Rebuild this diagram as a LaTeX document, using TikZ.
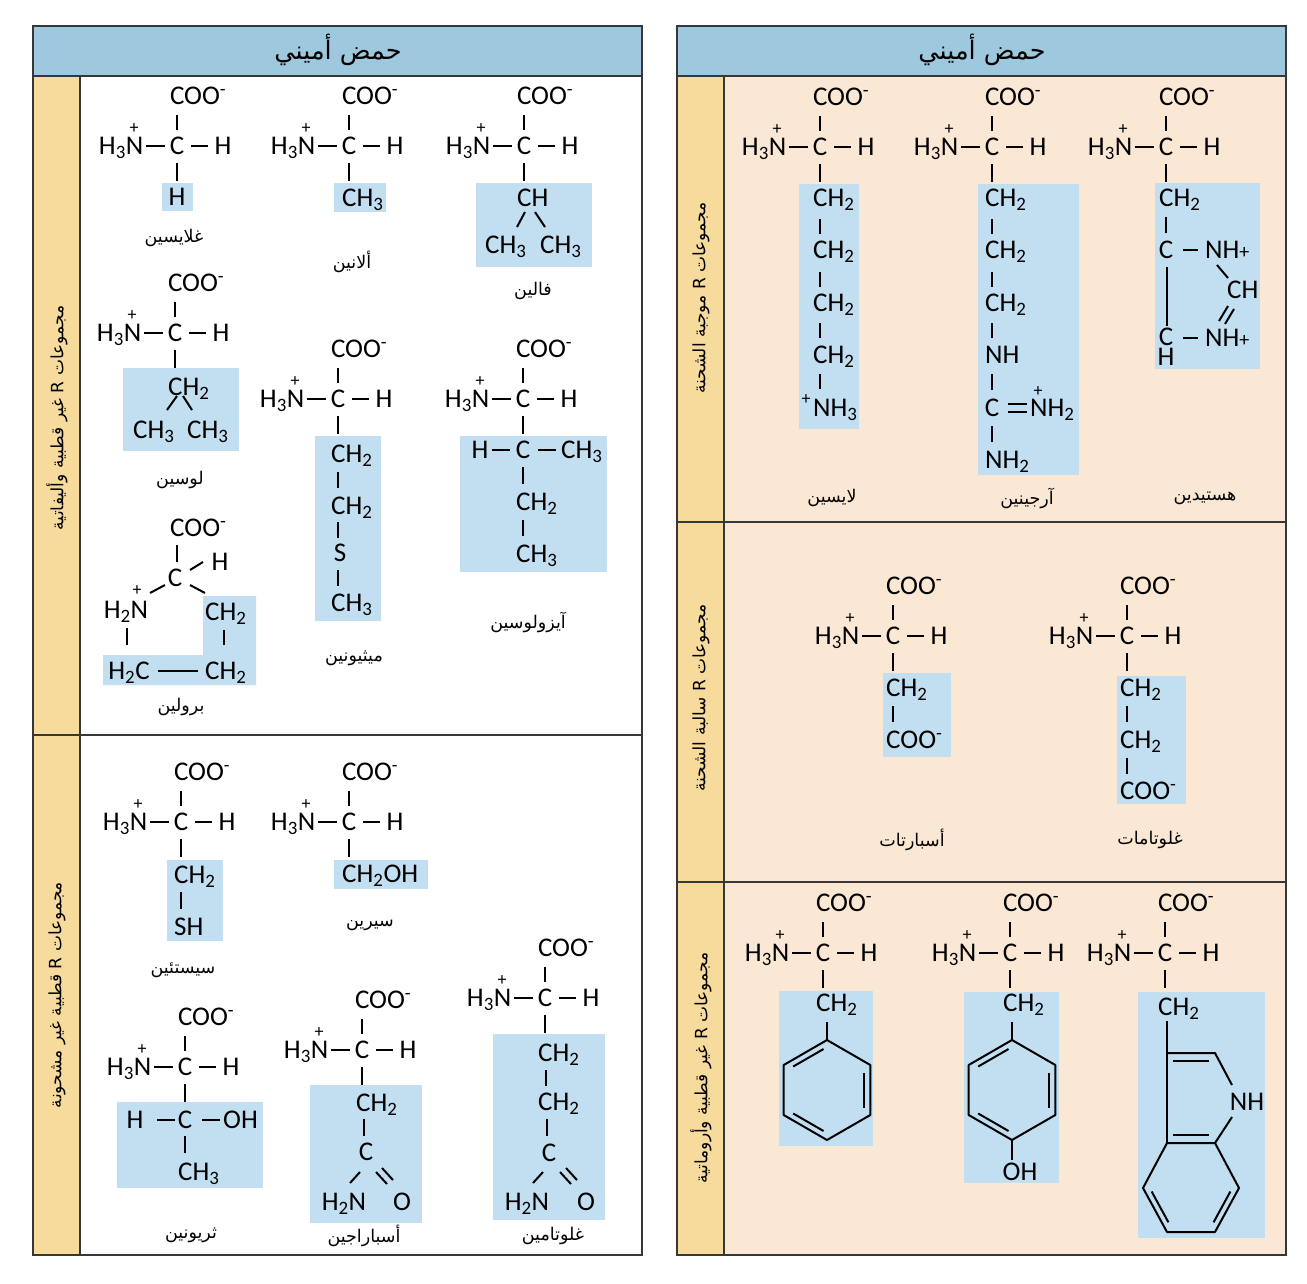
\documentclass[tikz,border=0pt]{standalone}
\usepackage{fontspec}
\usetikzlibrary{calc}
\TeXXeTstate=1
\newfontfamily\chemfont{Carlito}
\newfontfamily\arfont[Script=Arabic]{DejaVu Sans}
\definecolor{hdr}{RGB}{158,200,221}
\definecolor{stripc}{RGB}{247,219,157}
\definecolor{beige}{RGB}{250,232,212}
\definecolor{boxblue}{RGB}{194,222,241}
\definecolor{framec}{RGB}{55,55,55}
\tikzset{
 atom/.style={font=\chemfont\fontsize{27}{30}\selectfont, inner sep=0pt, anchor=base, yshift=-8.5pt},
 plussign/.style={font=\chemfont\fontsize{18}{20}\selectfont, inner sep=0pt},
 bond/.style={line width=2pt},
 rgroup/.style={fill=boxblue, draw=none},
 aaname/.style={font=\arfont\fontsize{17.5}{19}\selectfont, inner sep=0pt},
 sidelabel/.style={font=\arfont\fontsize{17}{19}\selectfont, inner sep=0pt, rotate=90},
 titlelabel/.style={font=\arfont\fontsize{25.5}{28}\selectfont, inner sep=0pt},
 panelframe/.style={draw=framec, line width=2pt},
}
\newcommand\CHtwo{CH\textsubscript{2}}
\newcommand\CHthree{CH\textsubscript{3}}
\newcommand\vbond[3]{\draw[bond] (#1,#2) -- (#1,#3);}
\newcommand\aahead[3]{%
\begin{scope}[shift={(#1,#2)}]
\node[atom] (#3-c) at (0,0) {C};
\node[atom,anchor=base west] (#3-coo) at (-7.2,-50) {COO\textsuperscript{-}};
\node[atom,anchor=base east] (#3-n) at (-33.5,0) {H\textsubscript{3}N};
\node[plussign] (#3-p) at (-43,-17) {+};
\node[atom] (#3-h) at (46,0) {H};
\draw[bond] (0,-31) -- (0,-16);
\draw[bond] (-31,0) -- (-12,0);
\draw[bond] (14,0) -- (31,0);
\draw[bond] (0,17) -- (0,35);
\end{scope}}
\newcommand\hexring[3]{%
\coordinate (#3c) at (#1,#2);
\coordinate (#3a) at ($(#1,#2)+(0,-50)$);
\coordinate (#3b) at ($(#1,#2)+(43.3,-25)$);
\coordinate (#3d) at ($(#1,#2)+(43.3,25)$);
\coordinate (#3e) at ($(#1,#2)+(0,50)$);
\coordinate (#3f) at ($(#1,#2)+(-43.3,25)$);
\coordinate (#3g) at ($(#1,#2)+(-43.3,-25)$);
\draw[bond,line join=round] (#3a)--(#3b)--(#3d)--(#3e)--(#3f)--(#3g)--cycle;
\draw[bond,shorten <=4pt,shorten >=4pt] ($(#3c)!0.86!(#3g)$) -- ($(#3c)!0.86!(#3a)$);
\draw[bond,shorten <=4pt,shorten >=4pt] ($(#3c)!0.86!(#3b)$) -- ($(#3c)!0.86!(#3d)$);
\draw[bond,shorten <=4pt,shorten >=4pt] ($(#3c)!0.86!(#3e)$) -- ($(#3c)!0.86!(#3f)$);
}
\begin{document}
\begin{tikzpicture}[x=1pt,y=-1pt]
\useasboundingbox (0,0) rectangle (1307,1283);
\fill[white] (0,0) rectangle (1307,1283);
% panel fills
\fill[beige] (677,26) rectangle (1286,1255);
\fill[hdr] (33,26) rectangle (642,76);
\fill[hdr] (677,26) rectangle (1286,76);
\fill[stripc] (33,76) rectangle (80,1255);
\fill[stripc] (677,76) rectangle (724,1255);
% R-group boxes
\fill[rgroup] (162,183) rectangle (193,211);
\fill[rgroup] (334,183) rectangle (386,212);
\fill[rgroup] (476,183) rectangle (592,267);
\fill[rgroup] (123,368) rectangle (239,451);
\fill[rgroup] (315,436) rectangle (381,621);
\fill[rgroup] (460,436) rectangle (607,572);
\fill[rgroup] (103,655) -- (203,655) -- (203,596) -- (256,596) -- (256,685) -- (103,685) -- cycle;
\fill[rgroup] (167,860) rectangle (223,941);
\fill[rgroup] (334,860) rectangle (428,889);
\fill[rgroup] (117,1102) rectangle (263,1188);
\fill[rgroup] (310,1085) rectangle (422,1223);
\fill[rgroup] (493,1034) rectangle (605,1220);
\fill[rgroup] (799,184) rectangle (859,429);
\fill[rgroup] (978,184) rectangle (1079,475);
\fill[rgroup] (1155,183) rectangle (1260,369);
\fill[rgroup] (883,673) rectangle (951,757);
\fill[rgroup] (1117,676) rectangle (1186,804);
\fill[rgroup] (779,991) rectangle (873,1146);
\fill[rgroup] (964,992) rectangle (1059,1183);
\fill[rgroup] (1138,992) rectangle (1265,1238);
% titles
\node[titlelabel] (t1) at (338,50) {\beginR حمض أميني\endR};
\node[titlelabel] (t2) at (982,50) {\beginR حمض أميني\endR};
% side labels
\node[sidelabel] (s1) at (57,418) {\beginR مجموعات R غير قطبية وأليفاتية\endR};
\node[sidelabel] (s2) at (57,995) {\beginR مجموعات R قطبية غير مشحونة\endR};
\node[sidelabel] (s3) at (701,298) {\beginR مجموعات R موجبة الشحنة\endR};
\node[sidelabel] (s4) at (701,698) {\beginR مجموعات R سالبة الشحنة\endR};
\node[sidelabel] (s5) at (701,1068) {\beginR مجموعات R غير قطبية وأروماتية\endR};
% ---------- Glycine
\aahead{177}{146}{gly}
\node[atom] (gly-r) at (177,197) {H};
\node[aaname] (gly-l) at (174,238) {\beginR غلايسين\endR};
% ---------- Alanine
\aahead{349}{146}{ala}
\node[atom,anchor=base west] (ala-r) at (342,198) {\CHthree};
\node[aaname] (ala-l) at (352,262) {\beginR ألانين\endR};
% ---------- Valine
\aahead{524}{146}{val}
\node[atom,anchor=base west] (val-ch) at (517,198) {CH};
\draw[bond] (525,212) -- (517,227);
\draw[bond] (535,212) -- (545,227);
\node[atom,anchor=base west] (val-m1) at (485,245) {\CHthree};
\node[atom,anchor=base west] (val-m2) at (540,245) {\CHthree};
\node[aaname] (val-l) at (533,291) {\beginR فالين\endR};
% ---------- Leucine
\aahead{175}{333}{leu}
\node[atom,anchor=base west] (leu-ch) at (168,387) {\CHtwo};
\draw[bond] (177,396) -- (167,410);
\draw[bond] (183,396) -- (192,410);
\node[atom,anchor=base west] (leu-m1) at (133,430) {\CHthree};
\node[atom,anchor=base west] (leu-m2) at (187,430) {\CHthree};
\node[aaname] (leu-l) at (180,480) {\beginR لوسين\endR};
% ---------- Methionine
\aahead{338}{399}{met}
\node[atom,anchor=base west] (met-1) at (331,454) {\CHtwo};
\vbond{338}{472}{488}
\node[atom,anchor=base west] (met-2) at (331,506) {\CHtwo};
\vbond{338}{522}{538}
\node[atom] (met-s) at (340,553) {S};
\vbond{338}{570}{586}
\node[atom,anchor=base west] (met-3) at (331,603) {\CHthree};
\node[aaname] (met-l) at (354,658) {\beginR ميثيونين\endR};
% ---------- Isoleucine
\aahead{523}{399}{ile}
\node[atom] (ile-h) at (480,450) {H};
\draw[bond] (492,450) -- (510,450);
\node[atom] (ile-c) at (523,450) {C};
\draw[bond] (538,450) -- (556,450);
\node[atom,anchor=base west] (ile-m) at (561,450) {\CHthree};
\vbond{523}{467}{484}
\node[atom,anchor=base west] (ile-2) at (516,502) {\CHtwo};
\vbond{523}{520}{536}
\node[atom,anchor=base west] (ile-3) at (516,554) {\CHthree};
\node[aaname] (ile-l) at (528,622) {\beginR آيزولوسين\endR};
% ---------- Proline
\node[atom,anchor=base west] (pro-coo) at (170,528) {COO\textsuperscript{-}};
\vbond{177}{545}{562}
\node[atom] (pro-c) at (175,578) {C};
\draw[bond] (190,570) -- (203,562);
\node[atom] (pro-h) at (220,562) {H};
\draw[bond] (150,593) -- (165,585);
\draw[bond] (190,585) -- (205,593);
\node[atom] (pro-n) at (126,610) {H\textsubscript{2}N};
\node[plussign] (pro-p) at (137,591) {+};
\vbond{127}{628}{645}
\node[atom] (pro-h2c) at (129,671) {H\textsubscript{2}C};
\draw[bond] (158,671) -- (198,671);
\node[atom,anchor=base west] (pro-cb) at (205,671) {\CHtwo};
\node[atom,anchor=base west] (pro-ca) at (205,612) {\CHtwo};
\vbond{224}{630}{645}
\node[aaname] (pro-l) at (181,707) {\beginR برولين\endR};
% ---------- Cysteine
\aahead{181}{822}{cys}
\node[atom,anchor=base west] (cys-1) at (174,875) {\CHtwo};
\vbond{181}{892}{909}
\node[atom,anchor=base west] (cys-2) at (174,927) {SH};
\node[aaname] (cys-l) at (183,970) {\beginR سيستئين\endR};
% ---------- Serine
\aahead{349}{822}{ser}
\node[atom,anchor=base west] (ser-1) at (342,874) {CH\textsubscript{2}OH};
\node[aaname] (ser-l) at (370,925) {\beginR سيرين\endR};
% ---------- Threonine
\aahead{185}{1067}{thr}
\node[atom] (thr-h) at (135,1120) {H};
\draw[bond] (157,1120) -- (175,1120);
\node[atom] (thr-c) at (185,1120) {C};
\draw[bond] (202,1120) -- (220,1120);
\node[atom,anchor=base west] (thr-oh) at (223,1120) {OH};
\vbond{185}{1136}{1153}
\node[atom,anchor=base west] (thr-m) at (178,1172) {\CHthree};
\node[aaname] (thr-l) at (191,1235) {\beginR ثريونين\endR};
% ---------- Asparagine
\aahead{362}{1050}{asn}
\node[atom,anchor=base west] (asn-1) at (356,1103) {\CHtwo};
\vbond{364}{1119}{1136}
\node[atom] (asn-c) at (366,1152) {C};
\draw[bond] (350,1183) -- (360,1172);
\draw[bond] (376,1172) -- (387,1184);
\draw[bond] (382,1168) -- (393,1180);
\node[atom] (asn-n) at (344,1202) {H\textsubscript{2}N};
\node[atom] (asn-o) at (402,1202) {O};
\node[aaname] (asn-l) at (364,1236) {\beginR أسباراجين\endR};
% ---------- Glutamine
\aahead{545}{998}{gln}
\node[atom,anchor=base west] (gln-1) at (538,1053) {\CHtwo};
\vbond{546}{1070}{1086}
\node[atom,anchor=base west] (gln-2) at (538,1102) {\CHtwo};
\vbond{547}{1119}{1136}
\node[atom] (gln-c) at (549,1153) {C};
\draw[bond] (533,1183) -- (543,1172);
\draw[bond] (560,1172) -- (571,1184);
\draw[bond] (566,1168) -- (577,1180);
\node[atom] (gln-n) at (527,1202) {H\textsubscript{2}N};
\node[atom] (gln-o) at (586,1202) {O};
\node[aaname] (gln-l) at (553,1236) {\beginR غلوتامين\endR};
% ---------- Lysine
\aahead{820}{147}{lys}
\node[atom,anchor=base west] (lys-1) at (813,198) {\CHtwo};
\vbond{820}{219}{234}
\node[atom,anchor=base west] (lys-2) at (813,250) {\CHtwo};
\vbond{820}{272}{287}
\node[atom,anchor=base west] (lys-3) at (813,303) {\CHtwo};
\vbond{820}{323}{338}
\node[atom,anchor=base west] (lys-4) at (813,355) {\CHtwo};
\vbond{820}{374}{389}
\node[atom,anchor=base west] (lys-5) at (813,408) {NH\textsubscript{3}};
\node[plussign] (lys-p) at (806,400) {+};
\node[aaname] (lys-l) at (832,498) {\beginR لايسين\endR};
% ---------- Arginine
\aahead{992}{147}{arg}
\node[atom,anchor=base west] (arg-1) at (985,198) {\CHtwo};
\vbond{992}{219}{234}
\node[atom,anchor=base west] (arg-2) at (985,250) {\CHtwo};
\vbond{992}{272}{287}
\node[atom,anchor=base west] (arg-3) at (985,303) {\CHtwo};
\vbond{992}{323}{338}
\node[atom,anchor=base west] (arg-4) at (985,355) {NH};
\vbond{992}{374}{390}
\node[atom] (arg-c) at (992,408) {C};
\draw[bond] (1008,404) -- (1027,404);
\draw[bond] (1008,412) -- (1027,412);
\node[atom,anchor=base west] (arg-n1) at (1030,408) {NH\textsubscript{2}};
\node[plussign] (arg-p) at (1038,392) {+};
\vbond{992}{426}{442}
\node[atom,anchor=base west] (arg-n2) at (985,460) {NH\textsubscript{2}};
\node[aaname] (arg-l) at (1027,498) {\beginR آرجينين\endR};
% ---------- Histidine
\aahead{1166}{147}{his}
\node[atom,anchor=base west] (his-1) at (1159,198) {\CHtwo};
\vbond{1166}{217}{233}
\node[atom] (his-c1) at (1166,250) {C};
\draw[bond] (1183,250) -- (1198,250);
\node[atom,anchor=base west] (his-n1) at (1205,250) {NH{\fontsize{20}{20}\selectfont +}};
\draw[bond] (1217,265) -- (1228,278);
\node[atom,anchor=base west] (his-ch) at (1227,290) {CH};
\draw[bond] (1228,306) -- (1219,321);
\draw[bond] (1234,309) -- (1225,324);
\vbond{1167}{267}{326}
\node[atom] (his-c2) at (1166,337) {C};
\node[atom] (his-h) at (1166,357) {H};
\draw[bond] (1183,338) -- (1198,338);
\node[atom,anchor=base west] (his-n2) at (1205,338) {NH{\fontsize{20}{20}\selectfont +}};
\node[aaname] (his-l) at (1205,498) {\beginR هستيدين\endR};
% ---------- Aspartate
\aahead{893}{636}{asp}
\node[atom,anchor=base west] (asp-1) at (886,688) {\CHtwo};
\vbond{893}{706}{722}
\node[atom,anchor=base west] (asp-2) at (886,740) {COO\textsuperscript{-}};
\node[aaname] (asp-l) at (912,840) {\beginR أسبارتات\endR};
% ---------- Glutamate
\aahead{1127}{636}{glu}
\node[atom,anchor=base west] (glu-1) at (1120,688) {\CHtwo};
\vbond{1127}{706}{722}
\node[atom,anchor=base west] (glu-2) at (1120,740) {\CHtwo};
\vbond{1127}{758}{774}
\node[atom,anchor=base west] (glu-3) at (1120,791) {COO\textsuperscript{-}};
\node[aaname] (glu-l) at (1150,840) {\beginR غلوتامات\endR};
% ---------- Phenylalanine
\aahead{823}{953}{phe}
\node[atom,anchor=base west] (phe-1) at (816,1003) {\CHtwo};
\vbond{827}{1022}{1040}
\hexring{827}{1090}{pr}
% ---------- Tyrosine
\aahead{1010}{953}{tyr}
\node[atom,anchor=base west] (tyr-1) at (1003,1003) {\CHtwo};
\vbond{1012}{1022}{1040}
\hexring{1012}{1090}{yr}
\vbond{1012}{1140}{1160}
\node[atom] (tyr-oh) at (1020,1172) {OH};
% ---------- Tryptophan
\aahead{1165}{953}{trp}
\node[atom,anchor=base west] (trp-1) at (1158,1007) {\CHtwo};
\coordinate (w3) at (1167,1053);
\coordinate (w2) at (1215,1053);
\coordinate (w3a) at (1167,1143);
\coordinate (w7a) at (1215,1143);
\coordinate (w4) at (1143,1188);
\coordinate (w5) at (1167,1232);
\coordinate (w6) at (1215,1232);
\coordinate (w7) at (1239,1188);
\coordinate (wc) at (1191,1188);
\draw[bond] (1167,1021) -- (w3a);
\draw[bond,line join=round] (w3) -- (w2) -- (1232,1085);
\draw[bond] (1232,1117) -- (w7a);
\draw[bond,line join=round] (w3a) -- (w4) -- (w5) -- (w6) -- (w7) -- (w7a) -- cycle;
\draw[bond] (1173,1061) -- (1209,1061);
\draw[bond] (1173,1135) -- (1209,1135);
\draw[bond,shorten <=4pt,shorten >=4pt] ($(wc)!0.86!(w4)$) -- ($(wc)!0.86!(w5)$);
\draw[bond,shorten <=4pt,shorten >=4pt] ($(wc)!0.86!(w6)$) -- ($(wc)!0.86!(w7)$);
\node[atom] (trp-nh) at (1247,1102) {NH};
% ---------- frames
\draw[panelframe] (33,26) rectangle (642,1255);
\draw[panelframe] (677,26) rectangle (1286,1255);
\draw[panelframe] (33,76) -- (642,76);
\draw[panelframe] (80,76) -- (80,1255);
\draw[panelframe] (33,735) -- (642,735);
\draw[panelframe] (677,76) -- (1286,76);
\draw[panelframe] (724,76) -- (724,1255);
\draw[panelframe] (677,522) -- (1286,522);
\draw[panelframe] (677,882) -- (1286,882);
\end{tikzpicture}
\end{document}
